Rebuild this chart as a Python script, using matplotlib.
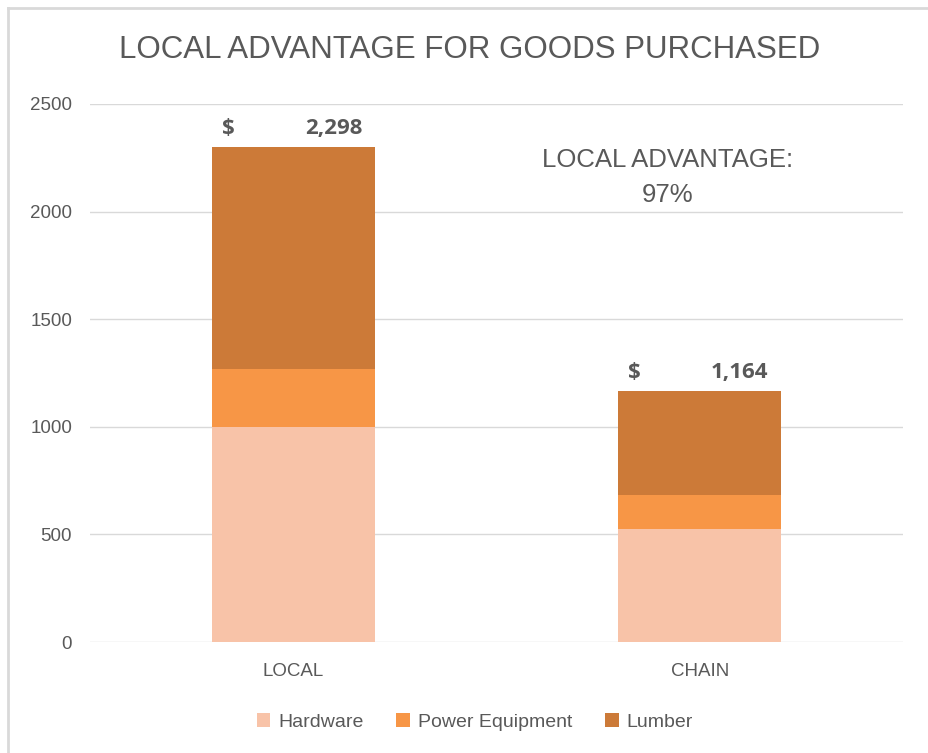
import matplotlib
matplotlib.use("Agg")
from matplotlib import pyplot as plt
from matplotlib.lines import Line2D
from matplotlib import font_manager
import numpy as np

categories = ["LOCAL", "CHAIN"]
hardware = [1000, 525]
power_equipment = [270, 157]
lumber = [1028, 482]
totals = [2298, 1164]
advantage_text = "LOCAL ADVANTAGE:\n97%"

names = {f.name for f in font_manager.fontManager.ttflist}
narrow = [n for n in ["Liberation Sans Narrow", "Liberation Sans"] if n in names] + ["DejaVu Sans"]
plt.rcParams['font.family'] = narrow
grey = "#595959"

fig = plt.figure(figsize=(9.29, 7.53), dpi=100)
ax = fig.add_axes([0.097, 0.1474, 0.875, 0.7146])

x = np.arange(len(categories))
w = 0.4
ax.bar(x, hardware, w, color="#F8C3A8", label="Hardware", zorder=3)
bottom2 = np.array(hardware)
ax.bar(x, power_equipment, w, bottom=bottom2, color="#F79646", label="Power Equipment", zorder=3)
bottom3 = bottom2 + np.array(power_equipment)
ax.bar(x, lumber, w, bottom=bottom3, color="#CC7A38", label="Lumber", zorder=3)

for xi, t in zip(x, totals):
    ax.annotate("$", (xi - w / 2, t), xytext=(7, 6), textcoords="offset points",
                ha="left", va="bottom", fontsize=16, fontweight="bold", color=grey,
                family=["Open Sans", "DejaVu Sans"])
    ax.annotate(f"{t:,}", (xi + w / 2, t), xytext=(-9, 6), textcoords="offset points",
                ha="right", va="bottom", fontsize=16, fontweight="bold", color=grey,
                family=["Open Sans", "DejaVu Sans"])

ax.text(0.92, 2158, advantage_text, ha="center", va="center", fontsize=18.5,
        color=grey, linespacing=1.55)

ax.set_xlim(-0.5, 1.5)
ax.set_ylim(0, 2500)
ax.set_yticks(range(0, 2501, 500))
ax.set_xticks(x)
ax.set_xticklabels(categories)
ax.tick_params(axis="both", length=0, labelsize=13.5, labelcolor=grey)
ax.tick_params(axis="x", pad=15)
ax.tick_params(axis="y", pad=13)
ax.grid(axis="y", color="#D9D9D9", linewidth=1, zorder=0)
for s in ax.spines.values():
    s.set_visible(False)

fig.text(0.506, 0.934, "LOCAL ADVANTAGE FOR GOODS PURCHASED", ha="center", va="center",
         fontsize=22.5, color=grey)

fig.legend(loc="center", bbox_to_anchor=(0.511, 0.041), ncol=3, frameon=False,
           fontsize=14, labelcolor=grey, handlelength=0.7, handleheight=0.7,
           columnspacing=1.7, handletextpad=0.4)

fig.add_artist(Line2D([0.009, 0.009], [0, 0.99], transform=fig.transFigure,
                      color="#D9D9D9", linewidth=2))
fig.add_artist(Line2D([0.009, 1], [0.99, 0.99], transform=fig.transFigure,
                      color="#D9D9D9", linewidth=2))

fig.savefig("out.png", dpi=100, facecolor="white")
